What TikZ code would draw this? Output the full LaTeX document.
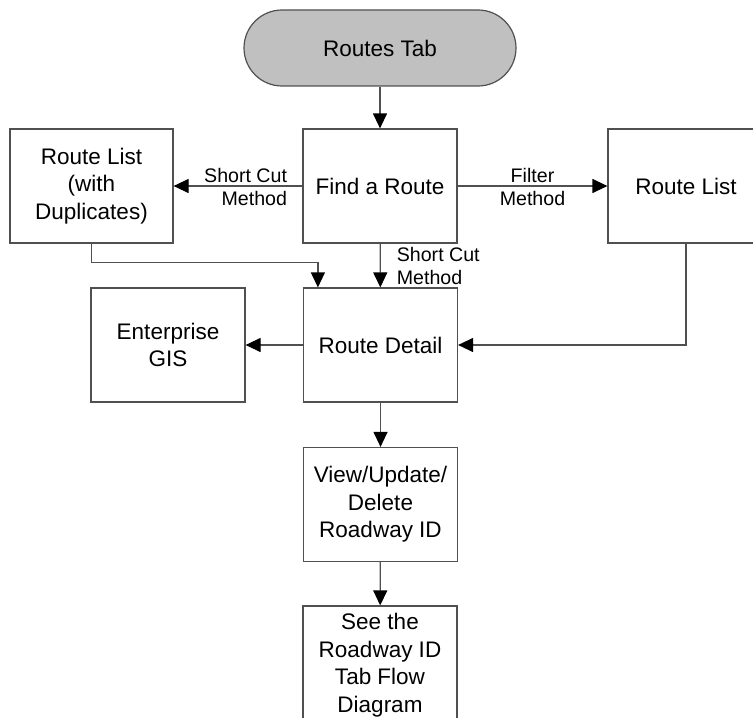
\documentclass[tikz,border=0pt]{standalone}
\usepackage{fontspec}
\setmainfont{Liberation Sans}
\usepackage{tikz}
\usetikzlibrary{arrows.meta}
\usetikzlibrary{positioning}
\definecolor{tabgray}{HTML}{C0C0C0}
\definecolor{linegray}{HTML}{505050}
\tikzset{box node/.style={rectangle,draw=linegray,line width=0.6pt,minimum width=77pt,minimum height=57pt,inner sep=1pt,align=center,font=\fontsize{11.25}{13.75}\selectfont},
  tab node/.style={box node,fill=tabgray,rounded corners=19pt,minimum width=136pt,minimum height=38pt},
  lbl/.style={inner sep=0pt,align=center,font=\fontsize{9.8}{11.5}\selectfont}}

\begin{document}
\begin{tikzpicture}[x=0.5pt,y=-0.5pt,
        arr/.style={-{Triangle[length=7.5pt,width=7pt,color=black]},draw=linegray,line width=0.6pt}]
    \useasboundingbox (0,0) rectangle (753,717);
    \node[tab node] (tab) at (380,48) {Routes Tab};
    \node[box node] (find) at (380,186) {Find a Route};
    \node[box node,minimum width=81.5pt] (dup) at (91.5,186) {Route List\\(with\\Duplicates)};
    \node[box node,minimum width=78pt] (list) at (686,186) {Route List};
    \node[box node] (detail) at (380.5,345) {Route Detail};
    \node[box node] (gis) at (168,345) {Enterprise\\GIS};
    \node[box node] (view) at (380.5,504.5) {View/Update/\\Delete\\Roadway ID};
    \node[box node,minimum height=59pt] (see) at (380,665) {See the\\Roadway ID\\Tab Flow\\Diagram};

    \draw[arr] (tab) -- (find);
    \draw[arr] (find) -- (dup);
    \node[lbl,align=right,anchor=east] at ([xshift=-7.5pt,yshift=-0.5pt]find.west) {Short Cut\\Method};
    \draw[arr] (find) -- node[lbl,yshift=-0.5pt] {Filter\\Method} (list);
    \draw[arr] (find) -- node[lbl,align=left,anchor=west,xshift=8pt] {Short Cut\\Method} (detail);
    \draw[arr] (dup.south) -- ++(0,19) -| ([xshift=7.5pt]detail.north west);
    \draw[arr] (list.south) |- (detail.east);
    \draw[arr] (detail) -- (gis);
    \draw[arr] (detail) -- (view);
    \draw[arr] (view) -- (see);
\end{tikzpicture}
\end{document}
